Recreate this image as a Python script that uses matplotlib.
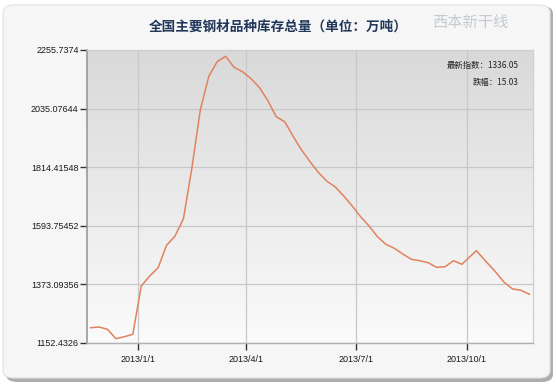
import matplotlib
matplotlib.use("Agg")
import matplotlib.pyplot as plt
import matplotlib.dates as mdates
from matplotlib.patches import FancyBboxPatch
from matplotlib.colors import LinearSegmentedColormap
import numpy as np
import datetime as dt

# ---- data ----
dates = [
    "2012-11-23", "2012-11-30", "2012-12-07", "2012-12-14", "2012-12-21", "2012-12-28",
    "2013-01-04", "2013-01-11", "2013-01-18", "2013-01-25", "2013-02-01", "2013-02-08",
    "2013-02-15", "2013-02-22", "2013-03-01", "2013-03-08", "2013-03-15", "2013-03-22",
    "2013-03-29", "2013-04-05", "2013-04-12", "2013-04-19", "2013-04-26", "2013-05-03",
    "2013-05-10", "2013-05-17", "2013-05-24", "2013-05-31", "2013-06-07", "2013-06-14",
    "2013-06-21", "2013-06-28", "2013-07-05", "2013-07-12", "2013-07-19", "2013-07-26",
    "2013-08-02", "2013-08-09", "2013-08-16", "2013-08-23", "2013-08-30", "2013-09-06",
    "2013-09-13", "2013-09-20", "2013-09-27", "2013-10-09", "2013-10-17", "2013-10-25",
    "2013-11-01", "2013-11-08", "2013-11-15", "2013-11-22",
]
values = [
    1210.0, 1212.6, 1204.0, 1168.6, 1176.1, 1185.2,
    1367.0, 1404.7, 1435.9, 1520.3, 1555.0, 1620.0,
    1811.0, 2030.0, 2156.0, 2212.0, 2232.0, 2190.6,
    2174.0, 2148.4, 2114.5, 2065.6, 2004.5, 1985.7,
    1930.8, 1879.2, 1835.1, 1794.4, 1761.7, 1739.8,
    1706.0, 1668.3, 1628.0, 1593.0, 1552.7, 1524.1,
    1509.0, 1487.6, 1467.6, 1462.3, 1454.8, 1437.5,
    1439.4, 1462.3, 1448.8, 1500.0, 1459.3, 1419.7,
    1381.3, 1356.0, 1351.08, 1336.05,
]
y_ticks = [1152.4326, 1373.09356, 1593.75452, 1814.41548, 2035.07644, 2255.7374]
y_tick_labels = ["1152.4326", "1373.09356", "1593.75452", "1814.41548", "2035.07644", "2255.7374"]
x_ticks = ["2013-01-01", "2013-04-01", "2013-07-01", "2013-10-01"]
x_tick_labels = ["2013/1/1", "2013/4/1", "2013/7/1", "2013/10/1"]
x_range = ["2012-11-20", "2013-11-25"]
title = "全国主要钢材品种库存总量（单位：万吨）"
latest_label = "最新指数：1336.05"
change_label = "跌幅：15.03"

cjk = ["Noto Sans CJK SC", "DejaVu Sans"]

def d(s):
    return dt.datetime.strptime(s, "%Y-%m-%d")

fig = plt.figure(figsize=(5.56, 3.85), dpi=100)
fig.patch.set_facecolor("white")

W, H = 556, 385
shadow = FancyBboxPatch((6 / W, 3 / H), 547 / W, 376 / H,
                        boxstyle="round,pad=0,rounding_size=0.02",
                        transform=fig.transFigure, facecolor="#9a9a9a",
                        edgecolor="none", zorder=-2, alpha=0.8)
fig.patches.append(shadow)
card = FancyBboxPatch((3 / W, 7 / H), 547 / W, 373 / H,
                      boxstyle="round,pad=0,rounding_size=0.02",
                      transform=fig.transFigure, facecolor="#f6f6f6",
                      edgecolor="#e2e2e2", linewidth=0.8, zorder=-1)
fig.patches.append(card)

ax = fig.add_axes([87 / W, 1 - 343 / H, (533 - 87) / W, (343 - 50) / H])
ax.set_zorder(1)
ax.set_facecolor("none")

xd = [d(s) for s in dates]
x0, x1 = mdates.date2num(d(x_range[0])), mdates.date2num(d(x_range[1]))
ymin, ymax = y_ticks[0], y_ticks[-1]

grad = np.linspace(0, 1, 256).reshape(-1, 1)
cmap = LinearSegmentedColormap.from_list("g", ["#fbfbfb", "#d9d9d9"])
ax.imshow(grad, extent=[x0, x1, ymin, ymax], origin="lower", aspect="auto",
          cmap=cmap, zorder=0)

ax.plot(xd, values, color="#e0825e", linewidth=1.1, zorder=3)

ax.set_xlim(x0, x1)
ax.set_ylim(ymin, ymax)
ax.set_yticks(y_ticks)
ax.set_yticklabels(y_tick_labels, fontsize=6.5, family="DejaVu Sans",
                   fontstretch="condensed", color="#1a1a1a")
ax.set_xticks([mdates.date2num(d(s)) for s in x_ticks])
ax.set_xticklabels(x_tick_labels, fontsize=6.5, family="Liberation Sans", color="#1a1a1a")
for lbl in ax.get_yticklabels():
    lbl.set_family("Liberation Sans")
ax.tick_params(axis="y", direction="out", length=5, width=1, color="#333333", pad=1)
ax.tick_params(axis="x", direction="out", length=5, width=1, color="#333333", pad=4)

ax.grid(True, color="#c8c8c8", linewidth=0.9)
for gl in ax.get_xgridlines() + ax.get_ygridlines():
    gl.set_zorder(1)

for side in ["top", "right"]:
    ax.spines[side].set_color("#cfcfcf")
    ax.spines[side].set_linewidth(0.9)
ax.spines["left"].set_color("#9a9a9a")
ax.spines["left"].set_linewidth(1.2)
ax.spines["bottom"].set_color("#b0b0b0")
ax.spines["bottom"].set_linewidth(1.0)

fig.text(278 / W, 1 - 27 / H, title, ha="center", va="center", fontsize=9.8,
         fontweight="bold", color="#22385a", family=cjk)
fig.text(470 / W, 1 - 22 / H, "西本新干线", ha="center", va="center", fontsize=11,
         color="#b8c0c8", family=cjk, style="italic", alpha=0.8)
fig.text(519 / W, 1 - 65 / H, latest_label, ha="right", va="center", fontsize=6,
         color="#222222", family=cjk, zorder=5)
fig.text(519 / W, 1 - 83 / H, change_label, ha="right", va="center", fontsize=6,
         color="#222222", family=cjk, zorder=5)

fig.savefig("out.png", dpi=100)
